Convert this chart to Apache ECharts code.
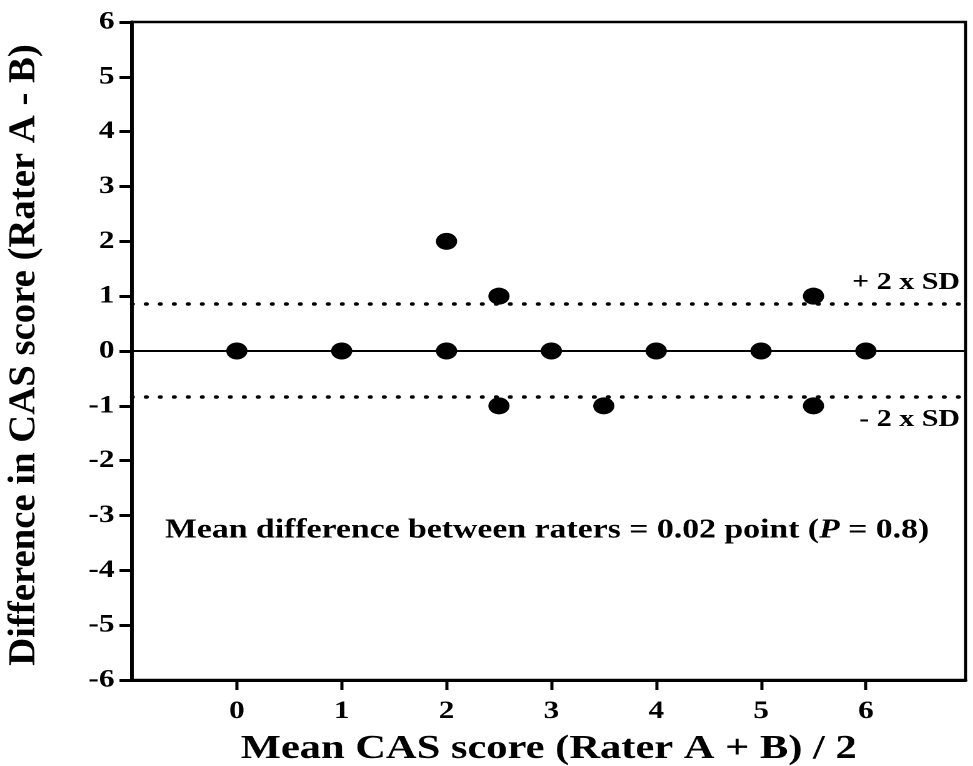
<!DOCTYPE html>
<html><head><meta charset="utf-8">
<script src="https://cdn.jsdelivr.net/npm/echarts@6/dist/echarts.min.js"></script>
<style>
html,body{margin:0;padding:0;background:#fff;overflow:hidden}
#c{width:778.4px;height:766px;transform:scaleX(1.25);transform-origin:0 0}
</style>
</head><body><div id="c"></div>
<script>
const meanScores = [0, 1, 2, 2, 2.5, 2.5, 3, 3.5, 4, 5, 5.5, 5.5, 6];
const differences = [0, 0, 0, 2, 1, -1, 0, -1, 0, 0, 1, -1, 0];
const upperLimit = 0.86;
const lowerLimit = -0.84;
const meanLine = 0;
const xTicks = [0, 1, 2, 3, 4, 5, 6];
const yTicks = [-6, -5, -4, -3, -2, -1, 0, 1, 2, 3, 4, 5, 6];
const xTitle = 'Mean CAS score (Rater A + B) / 2';
const yTitle = 'Difference in CAS score (Rater A - B)';

const font = 'Liberation Serif';
const chart = echarts.init(document.getElementById('c'), null, {devicePixelRatio: 2});
chart.setOption({
  animation: false,
  backgroundColor: '#fff',
  grid: {left: 105.6, right: 5.6, top: 22, bottom: 86, containLabel: false, outerBoundsMode: 'none',
    show: true, borderColor: '#000', borderWidth: 2.5},
  xAxis: {
    type: 'value', min: -1, max: 6.95, interval: 1,
    axisLine: {onZero: false, lineStyle: {color: '#000', width: 3}},
    axisTick: {show: true, length: 10, lineStyle: {color: '#000', width: 2.5},
      customValues: xTicks},
    axisLabel: {color: '#000', fontFamily: font, fontWeight: 'bold', fontSize: 25, margin: 19,
      customValues: xTicks},
    splitLine: {show: false},
    name: xTitle, nameLocation: 'middle', nameGap: 52,
    nameTextStyle: {color: '#000', fontFamily: font, fontWeight: 'bold', fontSize: 34}
  },
  yAxis: {
    type: 'value', min: -6, max: 6, interval: 1,
    axisLine: {onZero: false, lineStyle: {color: '#000', width: 3}},
    axisTick: {show: true, length: 10, lineStyle: {color: '#000', width: 3}},
    axisLabel: {color: '#000', fontFamily: font, fontWeight: 'bold', fontSize: 25, margin: 14,
      formatter: v => yTicks.includes(v) ? String(v) : ''},
    splitLine: {show: false}
  },
  series: [{
    type: 'scatter',
    data: meanScores.map((x, i) => [x, differences[i]]),
    symbol: 'circle', symbolSize: 17,
    itemStyle: {color: '#000', opacity: 1},
    z: 5,
    markLine: {
      silent: true, symbol: 'none', label: {show: false},
      data: [
        {yAxis: meanLine, lineStyle: {type: 'solid', color: '#000', width: 2}},
        {yAxis: upperLimit, lineStyle: {type: [0.5, 10.7], cap: 'round', color: '#000', width: 3.5}},
        {yAxis: lowerLimit, lineStyle: {type: [0.5, 10.7], cap: 'round', color: '#000', width: 3.5}}
      ]
    }
  }],
  graphic: [
    {type: 'text', x: 19.5, y: 355, rotation: Math.PI / 2, scaleX: 1.25,
      style: {text: yTitle, fill: '#000', font: 'bold 31px "Liberation Serif"', align: 'center', verticalAlign: 'middle'}},
    {type: 'text', right: 10, top: 271, style: {text: '+ 2 x SD', fill: '#000', font: 'bold 24px "Liberation Serif"'}},
    {type: 'text', right: 10, top: 408, style: {text: '- 2 x SD', fill: '#000', font: 'bold 24px "Liberation Serif"'}},
    {type: 'text', left: 132, top: 517, style: {
      text: '{b|Mean difference between raters = 0.02 point (}{i|P}{b| = 0.8)}',
      rich: {
        b: {fill: '#000', fontFamily: font, fontWeight: 'bold', fontSize: 27},
        i: {fill: '#000', fontFamily: font, fontWeight: 'bold', fontStyle: 'italic', fontSize: 27}
      }
    }}
  ]
});
</script></body></html>
